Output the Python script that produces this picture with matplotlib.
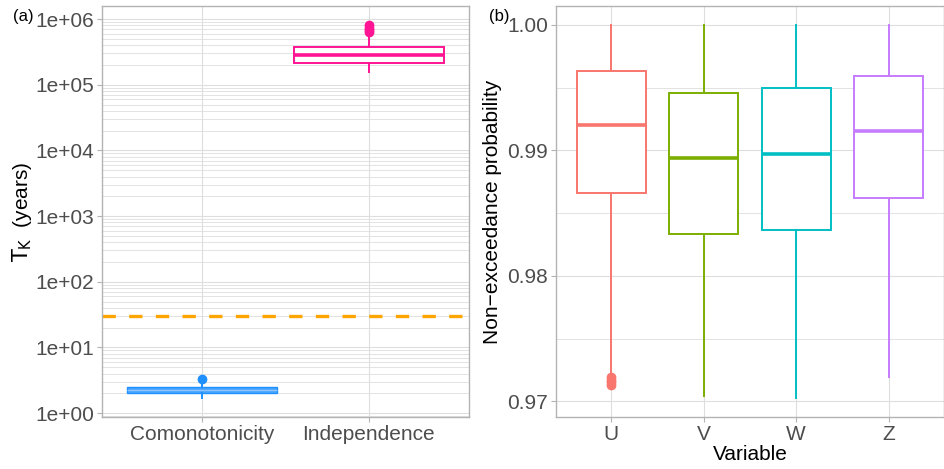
import numpy as np
import matplotlib.pyplot as plt
from matplotlib.ticker import FixedLocator, NullFormatter

# ---- data ----
# (a) return period T_K
groups_a = ['Comonotonicity', 'Independence']
q1_a = [2.04, 2.13e5]
med_a = [2.24, 2.83e5]
q3_a = [2.52, 3.78e5]
wlo_a = [1.69, 1.57e5]
whi_a = [2.84, 5.5e5]
fliers_a = [[3.27], [6.3e5, 6.8e5, 7.4e5, 8.2e5]]
design_T = 30

# (b) non-exceedance probability
groups_b = ['U', 'V', 'W', 'Z']
q1_b = [0.98658, 0.98336, 0.98365, 0.98618]
med_b = [0.99200, 0.98937, 0.98969, 0.99157]
q3_b = [0.99636, 0.99460, 0.99495, 0.99591]
wlo_b = [0.97200, 0.97044, 0.97023, 0.97193]
whi_b = [1.0, 1.0, 1.0, 1.0]
fliers_b = [[0.9719, 0.9717, 0.9715, 0.9713], [], [], []]

colors_a = ['#1E90FF', '#FF1493']
colors_b = ['#F8766D', '#7CAE00', '#00BFC4', '#C77CFF']

GRID = '#DEDEDE'
BORDER = '#B3B3B3'
TICKTXT = '#4D4D4D'

plt.rcParams['font.family'] = ['Liberation Sans', 'DejaVu Sans']


def style_axes(ax):
    ax.set_facecolor('white')
    for s in ax.spines.values():
        s.set_color(BORDER)
        s.set_linewidth(1.0)
    ax.tick_params(colors=BORDER, labelcolor=TICKTXT, labelsize=15,
                   length=3.5, width=0.8, pad=2)
    ax.tick_params(which='minor', length=0)
    ax.grid(True, which='major', color=GRID, linewidth=0.8)
    ax.grid(True, which='minor', axis='y', color=GRID, linewidth=0.6)
    ax.set_axisbelow(True)


def draw_boxes(ax, q1, med, q3, wlo, whi, fliers, colors, width,
               fills=None, lw=1.4, med_lw=2.6, med_colors=None):
    stats = []
    for i in range(len(q1)):
        stats.append(dict(q1=q1[i], med=med[i], q3=q3[i],
                          whislo=wlo[i], whishi=whi[i], fliers=fliers[i]))
    pos = np.arange(1, len(q1) + 1)
    bp = ax.bxp(stats, positions=pos, widths=width, patch_artist=True,
                showcaps=False, manage_ticks=False)
    for i, c in enumerate(colors):
        box = bp['boxes'][i]
        box.set_edgecolor(c)
        box.set_linewidth(lw[i] if isinstance(lw, list) else lw)
        if fills is not None and fills[i]:
            box.set_facecolor(fills[i])
        else:
            box.set_facecolor('white')
        mc = med_colors[i] if med_colors and med_colors[i] else c
        bp['medians'][i].set_color(mc)
        bp['medians'][i].set_linewidth(med_lw[i] if isinstance(med_lw, list) else med_lw)
        for w in bp['whiskers'][2 * i:2 * i + 2]:
            w.set_color(c)
            w.set_linewidth(1.4)
        f = bp['fliers'][i]
        f.set_marker('o')
        f.set_markerfacecolor(c)
        f.set_markeredgecolor(c)
        f.set_markersize(6)
    return pos


fig = plt.figure(figsize=(9.44, 4.69), dpi=100)
ax1 = fig.add_axes([102 / 944, 52 / 469, 367 / 944, 411 / 469])
ax2 = fig.add_axes([556 / 944, 52 / 469, 388 / 944, 411 / 469])

# ---- panel (a) ----
style_axes(ax1)
ax1.set_yscale('log')
ax1.axhline(design_T, color='#FFA500', linewidth=2.4, dashes=(4, 4), zorder=1.5)
pos = draw_boxes(ax1, q1_a, med_a, q3_a, wlo_a, whi_a, fliers_a, colors_a, 0.9,
                 fills=[(0.118, 0.565, 1.0, 0.8), None],
                 lw=[1.0, 1.4], med_lw=[0.9, 2.6],
                 med_colors=['#8EC5FF', None])
ax1.set_xlim(0.4, 2.6)
ax1.set_ylim(10 ** -0.06, 10 ** 6.2)
ax1.yaxis.set_major_locator(FixedLocator([10.0 ** k for k in range(0, 7)]))
ax1.set_yticklabels(['1e+%02d' % k for k in range(0, 7)])
minors = [m * 10.0 ** k for k in range(-1, 7) for m in range(2, 10)]
ax1.yaxis.set_minor_locator(FixedLocator(minors))
ax1.yaxis.set_minor_formatter(NullFormatter())
ax1.set_xticks(pos)
ax1.set_xticklabels(groups_a)
ax1.set_ylabel(r'$\mathrm{T_K}$  (years)', fontsize=15, color='black', labelpad=1)
fig.text(13 / 944, 1 - 16 / 469, '(a)', fontsize=12, va='center', ha='left')

# ---- panel (b) ----
style_axes(ax2)
pos = draw_boxes(ax2, q1_b, med_b, q3_b, wlo_b, whi_b, fliers_b, colors_b, 0.75)
ax2.set_xlim(0.4, 4.6)
ax2.set_ylim(0.96875, 1.0015)
ax2.set_yticks([0.97, 0.98, 0.99, 1.00])
ax2.set_yticklabels(['0.97', '0.98', '0.99', '1.00'])
ax2.yaxis.set_minor_locator(FixedLocator([0.975, 0.985, 0.995]))
ax2.set_xticks(pos)
ax2.set_xticklabels(groups_b)
ax2.set_xlabel('Variable', fontsize=15, color='black', labelpad=1)
ax2.set_ylabel('Non\u2212exceedance probability', fontsize=15, color='black', labelpad=4)
fig.text(489 / 944, 1 - 16 / 469, '(b)', fontsize=12, va='center', ha='left')

fig.savefig('out.png', dpi=100)
